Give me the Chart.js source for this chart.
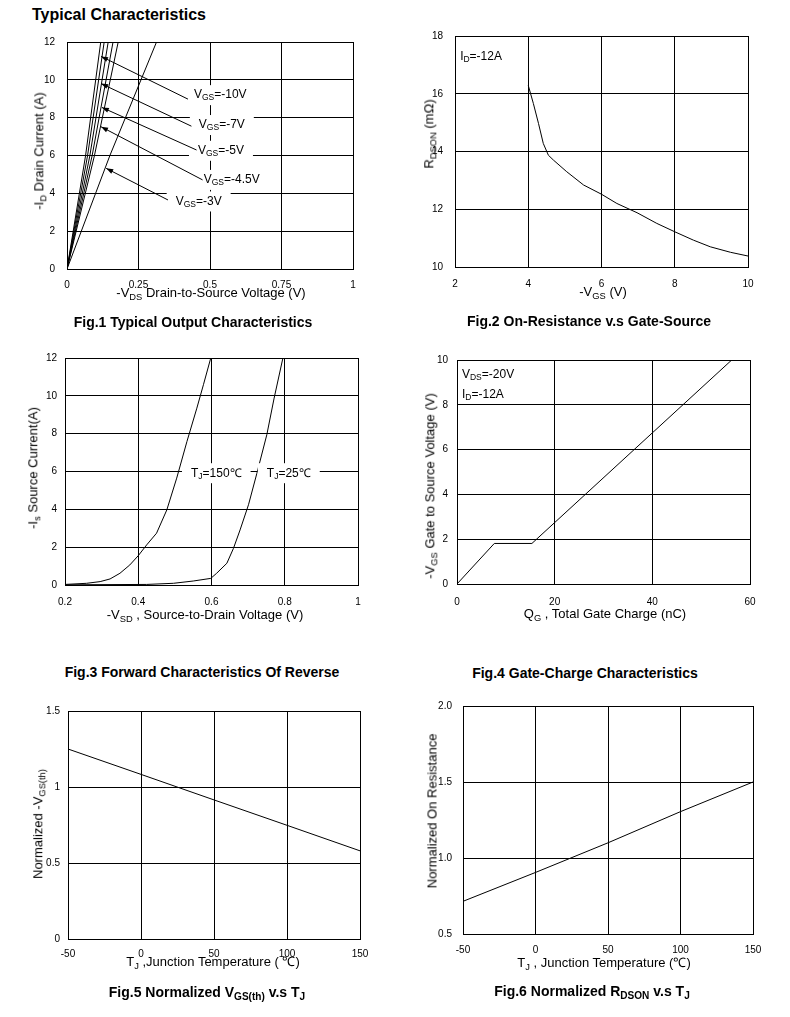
<!DOCTYPE html>
<html>
<head>
<meta charset="utf-8">
<script src="https://cdn.jsdelivr.net/npm/chart.js@4.4.1/dist/chart.umd.min.js"></script>
<style>
  body { margin: 0; background: #fff; }
  #page { position: relative; width: 790px; height: 1017px; overflow: hidden;
          font-family: "Liberation Sans", Arial, sans-serif; color: #000; }
  canvas { position: absolute; }
  .txt { position: absolute; white-space: nowrap; line-height: 1; transform: translate(-50%, -50%); }
  .ttl { font-size: 13px; }
  .cap { font-size: 14px; font-weight: bold; }
  .rot { transform: translate(-50%, -50%) rotate(-90deg); }
  .s { font-size: 0.72em; position: relative; top: 0.28em; }
  #head { position: absolute; left: 32px; top: 7px; font-size: 16px; font-weight: bold; line-height: 1; }
</style>
</head>
<body>
<div id="page"><div id="head">Typical Characteristics</div></div>
<script>
// ---- Fig.1 : sortie (Id en fonction de Vds)
const fig1Id = [0, 6, 12];
const fig1VdsA = [0, 0.065, 0.118];
const fig1VdsB = [0, 0.072, 0.130];
const fig1VdsC = [0, 0.080, 0.144];
const fig1VdsD = [0, 0.088, 0.161];
const fig1VdsE = [0, 0.096, 0.179];
const fig1Vds3V = [0, 0.150, 0.313];
const fig1XTicks = [0, 0.25, 0.5, 0.75, 1];
const fig1XLabels = ['0', '0.25', '0.5', '0.75', '1'];
const fig1YTicks = [0, 2, 4, 6, 8, 10, 12];
const fig1Notes = ['V_{GS}=-10V', 'V_{GS}=-7V', 'V_{GS}=-5V', 'V_{GS}=-4.5V', 'V_{GS}=-3V'];
const fig1NoteX = [0.444, 0.461, 0.458, 0.478, 0.380];
const fig1NoteY = [9.19, 7.61, 6.25, 4.71, 3.57];
const fig1ArrowFrom = [[0.423, 8.98], [0.435, 7.55], [0.453, 6.29], [0.474, 4.71], [0.353, 3.65]];
const fig1ArrowTo = [[0.119, 11.24], [0.119, 9.80], [0.122, 8.54], [0.119, 7.52], [0.137, 5.32]];

// ---- Fig.2 : Rdson en fonction de Vgs
const fig2Vgs = [4.0, 4.14, 4.28, 4.41, 4.55, 4.69, 5.05, 5.51, 6.0, 6.42, 6.97, 7.51, 8.0, 8.51, 8.97, 9.52, 10];
const fig2Rdson = [16.29, 15.66, 14.97, 14.28, 13.87, 13.70, 13.30, 12.84, 12.52, 12.20, 11.88, 11.51, 11.22, 10.93, 10.70, 10.51, 10.38];
const fig2XTicks = [2, 4, 6, 8, 10];
const fig2YTicks = [10, 12, 14, 16, 18];
const fig2Notes = ['I_{D}=-12A'];
const fig2NoteX = [2.14];
const fig2NoteY = [17.27];

// ---- Fig.3 : diode (Is en fonction de Vsd)
const fig3Vsd150 = [0.2, 0.259, 0.296, 0.323, 0.35, 0.377, 0.4, 0.423, 0.45, 0.478, 0.505, 0.533, 0.56, 0.578, 0.598];
const fig3Is150 = [0.03, 0.09, 0.18, 0.32, 0.62, 1.06, 1.55, 2.12, 2.74, 3.97, 5.65, 7.59, 9.35, 10.59, 12.0];
const fig3Vsd25 = [0.2, 0.423, 0.496, 0.55, 0.598, 0.614, 0.642, 0.66, 0.678, 0.701, 0.724, 0.751, 0.771, 0.795];
const fig3Is25 = [0.01, 0.03, 0.09, 0.21, 0.35, 0.62, 1.15, 1.94, 2.91, 4.24, 5.91, 7.94, 9.88, 12.0];
const fig3XTicks = [0.2, 0.4, 0.6, 0.8, 1];
const fig3XLabels = ['0.2', '0.4', '0.6', '0.8', '1'];
const fig3YTicks = [0, 2, 4, 6, 8, 10, 12];
const fig3Notes = ['T_{J}=150℃', 'T_{J}=25℃'];
const fig3NoteX = [0.544, 0.751];
const fig3NoteY = [5.91, 5.91];

// ---- Fig.4 : charge de grille
const fig4Qg = [0, 7.64, 15.34, 56.25];
const fig4Vgs = [0, 1.81, 1.81, 10];
const fig4XTicks = [0, 20, 40, 60];
const fig4YTicks = [0, 2, 4, 6, 8, 10];
const fig4Notes = ['V_{DS}=-20V', 'I_{D}=-12A'];
const fig4NoteX = [1.02, 1.02];
const fig4NoteY = [9.36, 8.44];

// ---- Fig.5 / Fig.6 : normalisé en fonction de Tj
const tempTj = [-50, 0, 50, 100, 150];
const fig5Vth = [1.25, 1.083, 0.915, 0.748, 0.58];
const fig6Rdson = [0.715, 0.905, 1.10, 1.305, 1.5];
const tempTicks = [-50, 0, 50, 100, 150];
const fig5YTicks = [0, 0.5, 1, 1.5];
const fig5YLabels = ['0', '0.5', '1', '1.5'];
const fig6YTicks = [0.5, 1.0, 1.5, 2.0];
const fig6YLabels = ['0.5', '1.0', '1.5', '2.0'];

// ---- textes
const xTitles = ['-V_{DS}  Drain-to-Source Voltage (V)', '-V_{GS} (V)', '-V_{SD} , Source-to-Drain Voltage (V)',
                 'Q_{G} , Total Gate Charge (nC)', 'T_{J} ,Junction Temperature ( ℃)', 'T_{J} , Junction Temperature (℃)'];
const yTitles = ['-I_{D} Drain Current (A)', 'R_{DSON} (mΩ)', '-I_{s} Source Current(A)',
                 '-V_{GS}  Gate to Source Voltage (V)', 'Normalized  -V_{GS(th)}', 'Normalized On Resistance'];
const captions = ['Fig.1 Typical Output Characteristics', 'Fig.2 On-Resistance v.s Gate-Source',
                  'Fig.3 Forward Characteristics Of Reverse', 'Fig.4 Gate-Charge Characteristics',
                  'Fig.5 Normalized V_{GS(th)} v.s T_{J}', 'Fig.6 Normalized R_{DSON} v.s T_{J}'];

// ---- mise en page (pixels)
const plotRects = [[67, 42, 353, 269], [455, 36, 748, 267], [65, 358, 358, 585],
                   [457, 360, 750, 584], [68, 711, 360, 939], [463, 706, 753, 934]];
const xTitlePos = [[211, 293], [603, 292], [205, 615], [605, 614], [213, 962], [604, 963]];
const yTitlePos = [[39, 151], [429, 134], [33, 468], [430, 486], [38, 824], [432, 811]];
const captionPos = [[193, 322], [589, 321], [202, 672], [585, 673], [207, 992], [592, 991]];
const xPad = [10, 11, 11, 12, 9, 10];
const yPad = [12, 12, 8, 9, 8, 11];
const PAD_TOP = 26, PAD_RIGHT = 30, Y_W = 60, X_H = 30;

const FONT = '"Liberation Sans", Arial, sans-serif';
const page = document.getElementById('page');

function toHtml(str) {
    return str.replace(/_\{([^}]*)\}/g, '<span class="s">$1</span>');
}

function splitParts(str) {
    const out = [];
    const re = /_\{([^}]*)\}/g;
    let last = 0, m;
    while ((m = re.exec(str))) {
        if (m.index > last) out.push([str.slice(last, m.index), false]);
        out.push([m[1], true]);
        last = re.lastIndex;
    }
    if (last < str.length) out.push([str.slice(last), false]);
    return out;
}

function place(html, pos, cls) {
    const d = document.createElement('div');
    d.className = 'txt ' + cls;
    d.style.left = pos[0] + 'px';
    d.style.top = pos[1] + 'px';
    d.innerHTML = toHtml(html);
    page.appendChild(d);
}

// Plugin : étiquettes (avec indices) et flèches en coordonnées de données
const notesPlugin = {
    id: 'notes',
    afterDatasetsDraw(chart, args, opts) {
        const ctx = chart.ctx;
        const sx = chart.scales.x, sy = chart.scales.y;
        const items = (opts.texts || []).map((t, i) => {
            const parts = splitParts(t);
            let w = 0;
            parts.forEach(p => {
                ctx.font = (p[1] ? '8.5px ' : '12px ') + FONT;
                w += ctx.measureText(p[0]).width;
            });
            return { parts, w, px: sx.getPixelForValue(opts.xs[i]), py: sy.getPixelForValue(opts.ys[i]) };
        });
        ctx.save();
        if (opts.box) {
            ctx.fillStyle = '#fff';
            items.forEach(it => ctx.fillRect(it.px - 9, it.py - 10, it.w + 18, 20));
        }
        // flèches
        (opts.from || []).forEach((f, i) => {
            const x0 = sx.getPixelForValue(f[0]), y0 = sy.getPixelForValue(f[1]);
            const x1 = sx.getPixelForValue(opts.to[i][0]), y1 = sy.getPixelForValue(opts.to[i][1]);
            const a = Math.atan2(y1 - y0, x1 - x0);
            ctx.strokeStyle = '#000';
            ctx.lineWidth = 1;
            ctx.beginPath();
            ctx.moveTo(x0, y0);
            ctx.lineTo(x1, y1);
            ctx.stroke();
            ctx.fillStyle = '#000';
            ctx.beginPath();
            ctx.moveTo(x1, y1);
            ctx.lineTo(x1 - 7 * Math.cos(a) + 2.5 * Math.sin(a), y1 - 7 * Math.sin(a) - 2.5 * Math.cos(a));
            ctx.lineTo(x1 - 7 * Math.cos(a) - 2.5 * Math.sin(a), y1 - 7 * Math.sin(a) + 2.5 * Math.cos(a));
            ctx.closePath();
            ctx.fill();
        });
        // textes
        ctx.fillStyle = '#000';
        ctx.textBaseline = 'middle';
        ctx.textAlign = 'left';
        items.forEach(it => {
            let cx = it.px;
            it.parts.forEach(p => {
                ctx.font = (p[1] ? '8.5px ' : '12px ') + FONT;
                ctx.fillText(p[0], cx, p[1] ? it.py + 3 : it.py);
                cx += ctx.measureText(p[0]).width;
            });
        });
        ctx.restore();
    }
};

function series(xs, ys) {
    return {
        data: xs.map((x, i) => ({ x: x, y: ys[i] })),
        showLine: true,
        borderColor: '#000',
        borderWidth: 1,
        pointRadius: 0,
        tension: 0,
        fill: false
    };
}

function axis(min, max, vals, labels, pad, isX) {
    return {
        type: 'linear',
        min: min,
        max: max,
        afterBuildTicks: s => { s.ticks = vals.map(v => ({ value: v })); },
        afterFit: s => { if (isX) s.height = X_H; else s.width = Y_W; },
        grid: { color: '#000', lineWidth: 1, drawTicks: false },
        border: { color: '#000', width: 1 },
        ticks: {
            autoSkip: false,
            maxRotation: 0,
            padding: pad,
            color: '#000',
            font: { family: FONT, size: 10 },
            callback: (v, i) => labels ? labels[i] : String(vals[i])
        }
    };
}

function makeChart(n, xAxis, yAxis, lines, notes) {
    const r = plotRects[n];
    const cv = document.createElement('canvas');
    cv.width = r[2] - r[0] + Y_W + PAD_RIGHT;
    cv.height = r[3] - r[1] + PAD_TOP + X_H;
    cv.style.left = (r[0] - Y_W) + 'px';
    cv.style.top = (r[1] - PAD_TOP) + 'px';
    page.appendChild(cv);
    new Chart(cv.getContext('2d'), {
        type: 'scatter',
        data: { datasets: lines.map(l => series(l[0], l[1])) },
        options: {
            responsive: false,
            animation: false,
            devicePixelRatio: 1,
            layout: { padding: { left: 0, top: PAD_TOP, right: PAD_RIGHT, bottom: 0 } },
            scales: { x: xAxis, y: yAxis },
            plugins: { legend: { display: false }, tooltip: { enabled: false }, notes: notes || {} }
        },
        plugins: [notesPlugin]
    });
    place(xTitles[n], xTitlePos[n], 'ttl');
    place(yTitles[n], yTitlePos[n], 'ttl rot');
    place(captions[n], captionPos[n], 'cap');
}

makeChart(0,
    axis(0, 1, fig1XTicks, fig1XLabels, xPad[0], true),
    axis(0, 12, fig1YTicks, null, yPad[0], false),
    [[fig1VdsA, fig1Id], [fig1VdsB, fig1Id], [fig1VdsC, fig1Id], [fig1VdsD, fig1Id], [fig1VdsE, fig1Id], [fig1Vds3V, fig1Id]],
    { texts: fig1Notes, xs: fig1NoteX, ys: fig1NoteY, box: true, from: fig1ArrowFrom, to: fig1ArrowTo });

makeChart(1,
    axis(2, 10, fig2XTicks, null, xPad[1], true),
    axis(10, 18, fig2YTicks, null, yPad[1], false),
    [[fig2Vgs, fig2Rdson]],
    { texts: fig2Notes, xs: fig2NoteX, ys: fig2NoteY, box: false });

makeChart(2,
    axis(0.2, 1, fig3XTicks, fig3XLabels, xPad[2], true),
    axis(0, 12, fig3YTicks, null, yPad[2], false),
    [[fig3Vsd150, fig3Is150], [fig3Vsd25, fig3Is25]],
    { texts: fig3Notes, xs: fig3NoteX, ys: fig3NoteY, box: true });

makeChart(3,
    axis(0, 60, fig4XTicks, null, xPad[3], true),
    axis(0, 10, fig4YTicks, null, yPad[3], false),
    [[fig4Qg, fig4Vgs]],
    { texts: fig4Notes, xs: fig4NoteX, ys: fig4NoteY, box: false });

makeChart(4,
    axis(-50, 150, tempTicks, null, xPad[4], true),
    axis(0, 1.5, fig5YTicks, fig5YLabels, yPad[4], false),
    [[tempTj, fig5Vth]]);

makeChart(5,
    axis(-50, 150, tempTicks, null, xPad[5], true),
    axis(0.5, 2.0, fig6YTicks, fig6YLabels, yPad[5], false),
    [[tempTj, fig6Rdson]]);
</script>
</body>
</html>
